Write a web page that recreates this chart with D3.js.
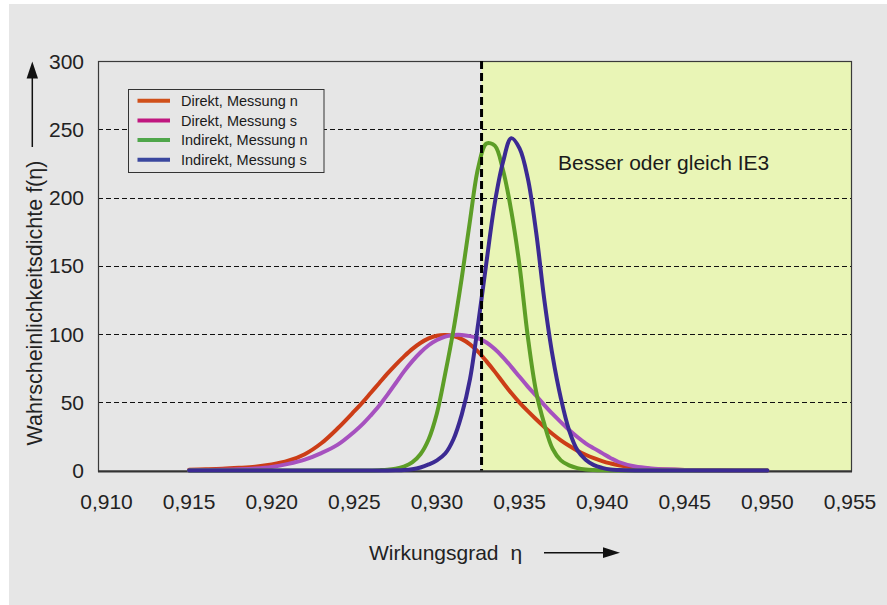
<!DOCTYPE html>
<html>
<head>
<meta charset="utf-8">
<script src="https://cdn.jsdelivr.net/npm/d3@7"></script>
<style>
  html, body { margin: 0; padding: 0; background: #ffffff; }
  svg { display: block; font-family: "Liberation Sans", Arial, Helvetica, sans-serif; }
</style>
</head>
<body>
<svg id="chart" width="887" height="605"></svg>
<script>
// Wirkungsgrad η (shared sample grid for all four density curves)
const eta = [
  0.915, 0.916, 0.917, 0.918, 0.919, 0.920, 0.921, 0.922, 0.923, 0.924, 0.925,
  0.9255, 0.926, 0.9265, 0.927, 0.9275, 0.928, 0.9285, 0.929, 0.9295, 0.930,
  0.9305, 0.931, 0.9315, 0.932, 0.9325, 0.933, 0.9335, 0.934, 0.9345, 0.935,
  0.9355, 0.936, 0.9365, 0.937, 0.9375, 0.938, 0.9385, 0.939, 0.9395, 0.940,
  0.9405, 0.941, 0.942, 0.943, 0.944, 0.945, 0.946, 0.947, 0.948, 0.949, 0.950
];

// Wahrscheinlichkeitsdichte f(η) per measurement
const direktN = [
  0.6, 0.9, 1.3, 2.0, 2.9, 4.5, 7.2, 12, 20, 31, 43.5,
  50, 57, 64, 71, 77.5, 83.5, 89, 93.5, 96.8, 98.8,
  99.3, 98.5, 96.3, 92.5, 87, 80, 72.5, 64.5, 56.8, 49.8,
  43.5, 37.6, 32, 26.8, 22.2, 18.2, 14.6, 11.6, 9.1, 7,
  5.3, 3.9, 2.1, 1.2, 0.7, 0.4, 0.3, 0.2, 0.1, 0.1, 0.05
];
const direktS = [
  0.3, 0.4, 0.6, 0.9, 1.5, 2.7, 4.9, 8, 12.8, 19, 28.5,
  34, 40.5, 47.5, 55.5, 64, 72.5, 80, 86.5, 91.8, 95.6,
  98.1, 99.3, 99.4, 98.5, 96.8, 93.8, 89, 83, 76, 68.7,
  61.5, 54.8, 48, 41.5, 35.5, 29.7, 24.6, 20, 16.3, 12.8,
  9.3, 6.3, 3, 1.6, 0.9, 0.5, 0.3, 0.2, 0.1, 0.1, 0.05
];
const indirektN = [
  0, 0, 0, 0, 0, 0, 0, 0, 0, 0, 0,
  0, 0.1, 0.3, 0.6, 1.4, 3, 6, 12, 23, 42,
  71, 103, 141, 183, 222, 239.5, 238, 220, 190, 150,
  98, 58, 34, 16, 7.5, 3.8, 1.8, 0.8, 0.4, 0.2,
  0.1, 0, 0, 0, 0, 0, 0, 0, 0, 0, 0
];
const indirektS = [
  0, 0, 0, 0, 0, 0, 0, 0, 0, 0, 0,
  0, 0, 0, 0.1, 0.2, 0.4, 1, 2.3, 4.5, 7.5,
  12.5, 23, 41, 67, 108, 153, 196, 226, 243.5, 236,
  214, 175, 125, 84, 53, 29.5, 15, 8, 4, 2,
  0.8, 0.4, 0.1, 0, 0, 0, 0, 0, 0, 0, 0
];

const seriesNames = ["Direkt, Messung n", "Direkt, Messung s", "Indirekt, Messung n", "Indirekt, Messung s"];
const seriesValues = [direktN, direktS, indirektN, indirektS];
const lineColors = ["#cc3d17", "#a651bf", "#5d9e27", "#3b2a93"];
const legendColors = ["#d0501a", "#c0177f", "#4fa64a", "#3a479e"];

const xTicks = [0.910, 0.915, 0.920, 0.925, 0.930, 0.935, 0.940, 0.945, 0.950, 0.955];
const yTicks = [0, 50, 100, 150, 200, 250, 300];

// IE3 efficiency limit and the label of the zone at or above it
const ie3Limit = 0.9327;
const zoneLabel = "Besser oder gleich IE3";
const xTitle = "Wirkungsgrad";
const yTitle = "Wahrscheinlichkeitsdichte f(η)";

const svg = d3.select("#chart");
const locale = d3.formatLocale({ decimal: ",", thousands: ".", grouping: [3], currency: ["", " €"] });
const fmtX = locale.format(".3f");

// panel background
svg.append("rect")
  .attr("x", 9).attr("y", 4).attr("width", 878).attr("height", 601)
  .attr("fill", "#e6e6e6");

const x = d3.scaleLinear().domain([0.910, 0.955]).range([106.5, 850]);
const y = d3.scaleLinear().domain([0, 300]).range([470.6, 61]);
const frameL = 98, frameR = 852;
const yTop = y(300), yBottom = y(0);

// zone right of the IE3 limit
svg.append("rect")
  .attr("x", x(ie3Limit)).attr("y", yTop)
  .attr("width", frameR - x(ie3Limit)).attr("height", yBottom - yTop)
  .attr("fill", "#e9f5b6");

// dashed horizontal grid
svg.append("g").selectAll("line")
  .data(yTicks.filter(d => d > 0 && d < 300))
  .join("line")
  .attr("x1", frameL).attr("x2", frameR)
  .attr("y1", d => Math.round(y(d)) + 0.5).attr("y2", d => Math.round(y(d)) + 0.5)
  .attr("stroke", "#111").attr("stroke-width", 1)
  .attr("stroke-dasharray", "5,3");

// plot frame
svg.append("rect")
  .attr("x", frameL + 0.5).attr("y", Math.round(yTop) + 0.5)
  .attr("width", frameR - frameL - 1).attr("height", yBottom - Math.round(yTop))
  .attr("fill", "none").attr("stroke", "#3a3a3a").attr("stroke-width", 1.2);
svg.append("line")
  .attr("x1", frameL).attr("x2", frameR)
  .attr("y1", yBottom + 1).attr("y2", yBottom + 1)
  .attr("stroke", "#333").attr("stroke-width", 2);

// density curves
const line = d3.line()
  .x((d, i) => x(eta[i]))
  .y(d => y(Math.max(0, d)))
  .curve(d3.curveCatmullRom.alpha(0.5));

svg.append("g").selectAll("path")
  .data(seriesValues)
  .join("path")
  .attr("d", d => line(d))
  .attr("fill", "none")
  .attr("stroke", (d, i) => lineColors[i])
  .attr("stroke-width", 4)
  .attr("stroke-linecap", "round")
  .attr("stroke-linejoin", "round");

// IE3 limit line
svg.append("line")
  .attr("x1", x(ie3Limit)).attr("x2", x(ie3Limit))
  .attr("y1", yTop).attr("y2", yBottom)
  .attr("stroke", "#000").attr("stroke-width", 3)
  .attr("stroke-dasharray", "8,4");

svg.append("text")
  .attr("x", 558).attr("y", 170)
  .attr("font-size", 21).attr("fill", "#1a1a1a")
  .text(zoneLabel);

// legend
const legend = svg.append("g");
legend.append("rect")
  .attr("x", 128.5).attr("y", 89.5).attr("width", 195.5).attr("height", 83)
  .attr("fill", "#e6e6e6").attr("stroke", "#333").attr("stroke-width", 1);
const items = legend.selectAll("g.item")
  .data(seriesNames)
  .join("g").attr("class", "item")
  .attr("transform", (d, i) => `translate(0, ${100.7 + i * 19.7})`);
items.append("line")
  .attr("x1", 137.5).attr("x2", 170)
  .attr("stroke", (d, i) => legendColors[i]).attr("stroke-width", 4);
items.append("text")
  .attr("x", 181).attr("y", 5.2)
  .attr("font-size", 14.5).attr("fill", "#1a1a1a")
  .text(d => d);

// axis labels
svg.append("g").selectAll("text")
  .data(xTicks)
  .join("text")
  .attr("x", d => x(d)).attr("y", 509)
  .attr("text-anchor", "middle")
  .attr("font-size", 21).attr("fill", "#222")
  .text(d => fmtX(d));

svg.append("g").selectAll("text")
  .data(yTicks)
  .join("text")
  .attr("x", 84).attr("y", d => y(d) + 7.5)
  .attr("text-anchor", "end")
  .attr("font-size", 21).attr("fill", "#222")
  .text(d => d);

// axis titles with direction arrows
svg.append("text")
  .attr("transform", "translate(41.5, 303) rotate(-90)")
  .attr("text-anchor", "middle")
  .attr("font-size", 21.5).attr("fill", "#222")
  .text(yTitle);
svg.append("line")
  .attr("x1", 32.3).attr("x2", 32.3).attr("y1", 147).attr("y2", 74)
  .attr("stroke", "#111").attr("stroke-width", 1.5);
svg.append("path")
  .attr("d", "M32.3,61.5 L26.6,78.5 L38,78.5 Z")
  .attr("fill", "#111");

const xt = svg.append("text")
  .attr("x", 369).attr("y", 559.5)
  .attr("font-size", 21).attr("fill", "#222");
xt.append("tspan").text(xTitle);
xt.append("tspan").attr("dx", 12).text("η");
svg.append("line")
  .attr("x1", 544).attr("x2", 606).attr("y1", 552.7).attr("y2", 552.7)
  .attr("stroke", "#111").attr("stroke-width", 1.5);
svg.append("path")
  .attr("d", "M620,552.7 L603,547.3 L603,558.1 Z")
  .attr("fill", "#111");
</script>
</body>
</html>
